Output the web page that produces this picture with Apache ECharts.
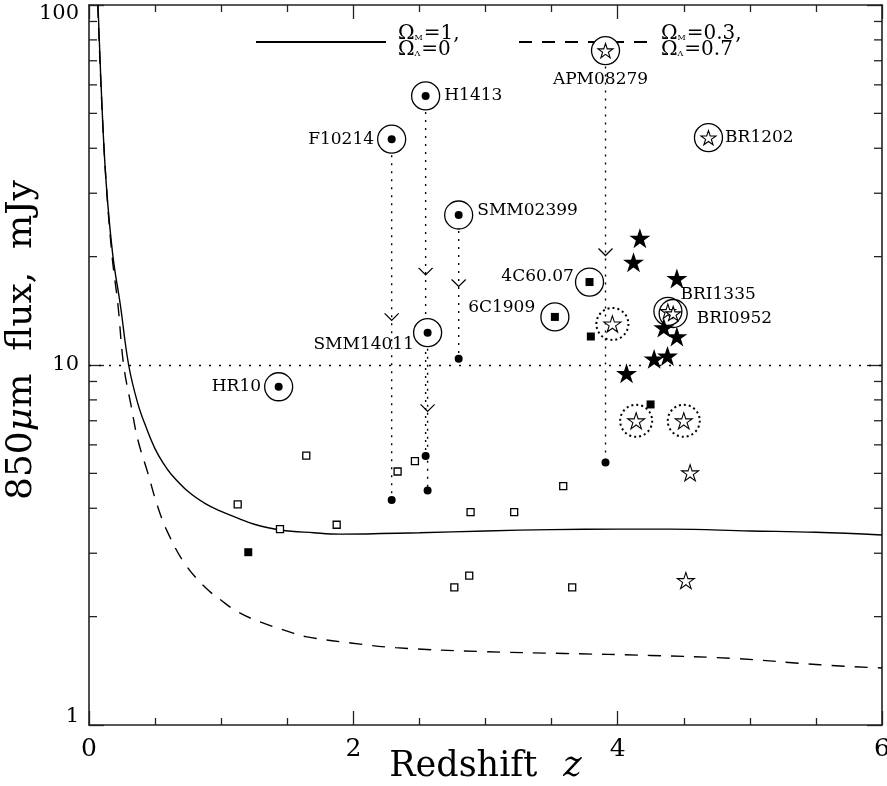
<!DOCTYPE html>
<html><head><meta charset="utf-8">
<script src="https://cdn.jsdelivr.net/npm/echarts@6/dist/echarts.min.js"></script>
<style>html,body{margin:0;padding:0;background:#fff}#c{width:887px;height:786px}</style>
</head><body><div id="c"></div>
<script>
// ---------------- data ----------------
const xTickLabels = ['0', '2', '4', '6'];
const yTickLabels = ['1', '10', '100'];
const xMin = 0, xMax = 6, yMin = 1, yMax = 100;
const yMinorTicks = [2, 3, 4, 5, 6, 7, 8, 9, 20, 30, 40, 50, 60, 70, 80, 90];

// selection-function curves (Omega_M=1 solid, Omega_M=0.3 dashed)
const edsZ = [0.068, 0.098, 0.13, 0.18, 0.237, 0.30, 0.37, 0.44, 0.50, 0.56, 0.62, 0.75, 0.88, 1.0, 1.13, 1.25, 1.45, 1.7, 1.9, 2.5, 3.0, 3.5, 4.0, 4.4, 5.0, 5.5, 6.0];
const edsS = [100, 52.7, 32, 20.2, 14.7, 10, 7.8, 6.6, 5.85, 5.35, 4.98, 4.45, 4.12, 3.92, 3.75, 3.61, 3.48, 3.42, 3.39, 3.42, 3.46, 3.49, 3.5, 3.5, 3.46, 3.43, 3.37];
const lamZ = [0.066, 0.098, 0.13, 0.175, 0.219, 0.262, 0.32, 0.37, 0.446, 0.52, 0.60, 0.724, 0.875, 1.0, 1.127, 1.30, 1.505, 1.64, 1.98, 2.32, 2.96, 3.6, 4.25, 4.89, 5.53, 6.0];
const lamS = [100, 52, 32, 20, 14.7, 10, 7.66, 6.19, 5.0, 4.04, 3.4, 2.81, 2.42, 2.22, 2.06, 1.93, 1.82, 1.76, 1.69, 1.64, 1.60, 1.58, 1.56, 1.53, 1.47, 1.44];

// circled sources with a filled dot inside
const dotSrcNames = ['HR10', 'F10214', 'H1413', 'SMM02399', 'SMM14011'];
const dotSrcZ = [1.435, 2.29, 2.547, 2.797, 2.562];
const dotSrcS = [8.7, 42.4, 55.9, 26.1, 12.3];
// circled sources with a filled square inside
const sqSrcNames = ['4C60.07', '6C1909'];
const sqSrcZ = [3.787, 3.525];
const sqSrcS = [17.0, 13.6];
// circled sources with an open star inside
const starSrcNames = ['APM08279', 'BR1202', 'BRI1335', 'BRI0952'];
const starSrcZ = [3.908, 4.687, 4.38, 4.42];
const starSrcS = [74.7, 42.8, 14.1, 13.9];

// lensing corrections: source -> corrected value, arrow position
const lensNames = ['F10214', 'H1413', 'SMM14011', 'SMM02399', 'APM08279'];
const lensZ = [2.29, 2.547, 2.562, 2.797, 3.908];
const lensTop = [42.4, 55.9, 12.3, 26.1, 74.7];
const lensBottom = [4.22, 5.59, 4.48, 10.4, 5.36];
const lensArrow = [13.6, 18.2, 7.6, 16.9, 20.6];

// open stars inside dotted circles
const dottedStarZ = [3.96, 4.14, 4.50];
const dottedStarS = [13.0, 7.0, 7.0];
// open stars
const openStarZ = [4.548, 4.516];
const openStarS = [5.02, 2.52];
// filled stars
const fillStarZ = [4.168, 4.12, 4.448, 4.349, 4.448, 4.276, 4.377, 4.067];
const fillStarS = [22.5, 19.3, 17.4, 12.7, 12.0, 10.4, 10.6, 9.48];
// filled squares
const fillSqZ = [3.797, 4.249, 1.205];
const fillSqS = [12.0, 7.77, 3.02];
// open squares
const openSqZ = [1.125, 1.445, 1.644, 1.874, 2.335, 2.466, 2.887, 3.217, 2.877, 2.764, 3.588, 3.656];
const openSqS = [4.10, 3.50, 5.60, 3.60, 5.06, 5.41, 3.90, 3.90, 2.60, 2.41, 4.61, 2.41];

// ---------------- styling ----------------
const FONT = "'DejaVu Serif', 'Liberation Serif', serif";
const LFONT = "'DejaVu Serif', 'Liberation Serif', serif";
const STAR = 'path://M50 0 L61.23 34.55 L97.55 34.55 L68.17 55.9 L79.39 90.45 L50 69.1 L20.61 90.45 L31.83 55.9 L2.45 34.55 L38.77 34.55 Z';
const VEE = 'path://M0 0 L7 7 L14 0';
const labelPlace = {
  'HR10': {position: 'left', distance: 3},
  'F10214': {position: 'left', distance: 3},
  'H1413': {position: 'right', distance: 4},
  'SMM02399': {position: 'right', distance: 4, offset: [0, -4]},
  'SMM14011': {position: 'left', distance: -1, offset: [0, 12]},
  '4C60.07': {position: 'left', distance: 1, offset: [0, -5]},
  '6C1909': {position: 'left', distance: 5, offset: [0, -9]},
  'APM08279': {position: 'bottom', distance: 6, offset: [-5, 0]},
  'BR1202': {position: 'right', distance: 2},
  'BRI1335': {position: 'right', distance: 1, offset: [-3, -17]},
  'BRI0952': {position: 'right', distance: 9, offset: [0, 5]}
};
const zip = (a, b) => a.map((v, i) => [v, b[i]]);
const labelStyle = {show: true, color: '#000', fontFamily: LFONT, fontSize: 17};

function circleItems(names, zs, ss, transparent) {
  return names.map((n, i) => ({
    name: n, value: [zs[i], ss[i]],
    itemStyle: transparent.includes(n) ? {color: 'rgba(255,255,255,0)'} : undefined,
    label: Object.assign({}, labelStyle, {formatter: n}, labelPlace[n])
  }));
}

const series = [];
series.push({
  name: 'eds', type: 'line', data: zip(edsZ, edsS), showSymbol: false, symbol: 'none', smooth: 0.4,
  itemStyle: {color: '#000'},
  lineStyle: {color: '#000', width: 1.4, type: 'solid'}, z: 2, silent: true,
  markLine: {
    silent: true, symbol: 'none', label: {show: false},
    lineStyle: {color: '#000', width: 1.3, type: [2, 8]},
    data: [{yAxis: 10}]
  }
});
series.push({
  name: 'lam', type: 'line', data: zip(lamZ, lamS), showSymbol: false, symbol: 'none', smooth: 0.4,
  itemStyle: {color: '#000'},
  lineStyle: {color: '#000', width: 1.4, type: [13, 10]}, z: 2, silent: true
});
lensNames.forEach((n, i) => {
  series.push({
    type: 'line', data: [[lensZ[i], lensTop[i]], [lensZ[i], lensBottom[i]]], showSymbol: false, symbol: 'none',
    lineStyle: {color: '#000', width: 1.4, type: [2, 6]}, z: 2, silent: true
  });
});
series.push({
  type: 'scatter', data: zip(lensZ, lensArrow), symbol: VEE, symbolSize: [14, 7],
  itemStyle: {color: 'none', borderColor: '#000', borderWidth: 1.1, opacity: 1}, z: 3
});
// circles
series.push({
  type: 'scatter', symbol: 'circle', symbolSize: 28, z: 4,
  itemStyle: {color: '#fff', borderColor: '#000', borderWidth: 1.3, opacity: 1},
  data: circleItems(dotSrcNames, dotSrcZ, dotSrcS, [])
    .concat(circleItems(sqSrcNames, sqSrcZ, sqSrcS, []))
    .concat(circleItems(starSrcNames, starSrcZ, starSrcS, ['BRI1335', 'BRI0952']))
});
// dotted circles
series.push({
  type: 'scatter', symbol: 'circle', symbolSize: 32, z: 4,
  itemStyle: {color: 'rgba(255,255,255,0)', borderColor: '#000', borderWidth: 2, borderType: [2, 3], opacity: 1},
  data: zip(dottedStarZ, dottedStarS)
});
// dots inside circles + corrected dots
series.push({
  type: 'scatter', symbol: 'circle', symbolSize: 8, z: 5, itemStyle: {color: '#000', opacity: 1},
  data: zip(dotSrcZ, dotSrcS).concat(zip(lensZ, lensBottom))
});
// filled squares (inside circles and alone)
series.push({
  type: 'scatter', symbol: 'rect', symbolSize: 8, z: 5, itemStyle: {color: '#000', opacity: 1},
  data: zip(sqSrcZ, sqSrcS).concat(zip(fillSqZ, fillSqS))
});
// open squares
series.push({
  type: 'scatter', symbol: 'rect', symbolSize: 7, z: 5,
  itemStyle: {color: '#fff', borderColor: '#000', borderWidth: 1.3, opacity: 1},
  data: zip(openSqZ, openSqS)
});
// open stars inside circles
series.push({
  type: 'scatter', symbol: STAR, symbolKeepAspect: true, symbolSize: 15, z: 5,
  itemStyle: {color: '#fff', borderColor: '#000', borderWidth: 1.1, opacity: 1},
  data: zip(starSrcZ, starSrcS)
});
// open stars in dotted circles and alone
series.push({
  type: 'scatter', symbol: STAR, symbolKeepAspect: true, symbolSize: 17, z: 5,
  itemStyle: {color: '#fff', borderColor: '#000', borderWidth: 1.1, opacity: 1},
  data: zip(dottedStarZ, dottedStarS).concat(zip(openStarZ, openStarS))
});
// filled stars
series.push({
  type: 'scatter', symbol: STAR, symbolKeepAspect: true, symbolSize: 21, z: 6,
  itemStyle: {color: '#000', opacity: 1},
  data: zip(fillStarZ, fillStarS)
});
// minor log ticks on left & right frame
series.push({
  type: 'custom', silent: true, z: 10,
  data: yMinorTicks.map(v => [xMin, v]),
  renderItem: (params, api) => {
    const v = api.value(1);
    const pL = api.coord([xMin, v]);
    const pR = api.coord([xMax, v]);
    const st = {stroke: '#222', lineWidth: 1.3};
    return {type: 'group', children: [
      {type: 'line', shape: {x1: pL[0], y1: pL[1], x2: pL[0] + 8, y2: pL[1]}, style: st},
      {type: 'line', shape: {x1: pR[0] - 8, y1: pR[1], x2: pR[0], y2: pR[1]}, style: st}
    ]};
  }
});

const axisLine = {show: true, onZero: false, lineStyle: {color: '#222', width: 1.6}};
const xCommon = {
  type: 'value', min: xMin, max: xMax, interval: 2,
  axisLine, splitLine: {show: false},
  axisTick: {show: true, inside: true, length: 14, lineStyle: {color: '#222', width: 1.3}},
  minorTick: {show: true, splitNumber: 4, length: 7, lineStyle: {color: '#222', width: 1.3}},
};
const yCommon = {
  type: 'log', logBase: 10, min: yMin, max: yMax,
  axisLine, splitLine: {show: false},
  axisTick: {show: true, inside: true, length: 15, lineStyle: {color: '#222', width: 1.3}},
  minorTick: {show: false}
};
const legendRich = {
  b: {fontFamily: FONT, fontSize: 20, color: '#000', lineHeight: 16},
  s: {fontFamily: FONT, fontSize: 8, color: '#000', lineHeight: 16, verticalAlign: 'bottom', padding: [5, 1, 0, 0]}
};
const legendText = {
  eds: '{b|Ω}{s|M}{b|=1,}\n{b|Ω}{s|Λ}{b|=0}',
  lam: '{b|Ω}{s|M}{b|=0.3,}\n{b|Ω}{s|Λ}{b|=0.7}'
};
const legendCommon = {
  top: 24, padding: 0, itemWidth: 130, itemHeight: 14, selectedMode: false,
  itemStyle: {color: 'rgba(0,0,0,0)', borderWidth: 0},
  formatter: n => legendText[n],
  textStyle: {color: '#000', fontFamily: FONT, fontSize: 20, lineHeight: 16, padding: [0, 0, 0, 7], rich: legendRich}
};
const yLabelRich = {
  top: {fontFamily: FONT, fontSize: 21, color: '#000', padding: [18, 0, 0, 0]},
  mid: {fontFamily: FONT, fontSize: 21, color: '#000'},
  bot: {fontFamily: FONT, fontSize: 21, color: '#000', padding: [0, 0, 16, 0]}
};

const option = {
  animation: false,
  backgroundColor: '#fff',
  grid: {left: 89, right: 5, top: 5, bottom: 61, containLabel: false, outerBoundsMode: 'none'},
  legend: [
    Object.assign({}, legendCommon, {data: ['eds'], left: 255}),
    Object.assign({}, legendCommon, {data: ['lam'], left: 518})
  ],
  xAxis: [
    Object.assign({}, xCommon, {
      position: 'bottom',
      axisLabel: {show: true, margin: 12, color: '#000', fontFamily: FONT, fontSize: 25,
        formatter: v => xTickLabels[Math.round(v / 2)]},
      name: '{a|Redshift}{i|z}', nameLocation: 'middle', nameGap: 24, nameMoveOverlap: false,
      nameTextStyle: {verticalAlign: 'top', rich: {
        a: {fontFamily: FONT, fontSize: 35, color: '#000'},
        i: {fontFamily: FONT, fontSize: 35, fontStyle: 'italic', color: '#000', padding: [0, 0, 0, 26]}
      }}
    }),
    Object.assign({}, xCommon, {position: 'top', axisLabel: {show: false}})
  ],
  yAxis: [
    Object.assign({}, yCommon, {
      position: 'left',
      axisLabel: {show: true, margin: 10, color: '#000', fontFamily: FONT, fontSize: 21,
        formatter: v => {
          const k = Math.round(Math.log10(v));
          const key = k === 0 ? 'bot' : (k === 2 ? 'top' : 'mid');
          return '{' + key + '|' + yTickLabels[k] + '}';
        },
        rich: yLabelRich},
      name: '{a|850}{i|μ}{a|m  flux,  mJy}', nameLocation: 'middle', nameGap: 49, nameRotate: 90,
      nameMoveOverlap: false,
      nameTextStyle: {padding: [0, 0, 0, 50], rich: {
        a: {fontFamily: FONT, fontSize: 36, color: '#000'},
        i: {fontFamily: FONT, fontSize: 36, fontStyle: 'italic', color: '#000'}
      }}
    }),
    Object.assign({}, yCommon, {position: 'right', axisLabel: {show: false}})
  ],
  series
};
const chart = echarts.init(document.getElementById('c'), null, {renderer: 'canvas'});
chart.setOption(option);
</script>
</body></html>
